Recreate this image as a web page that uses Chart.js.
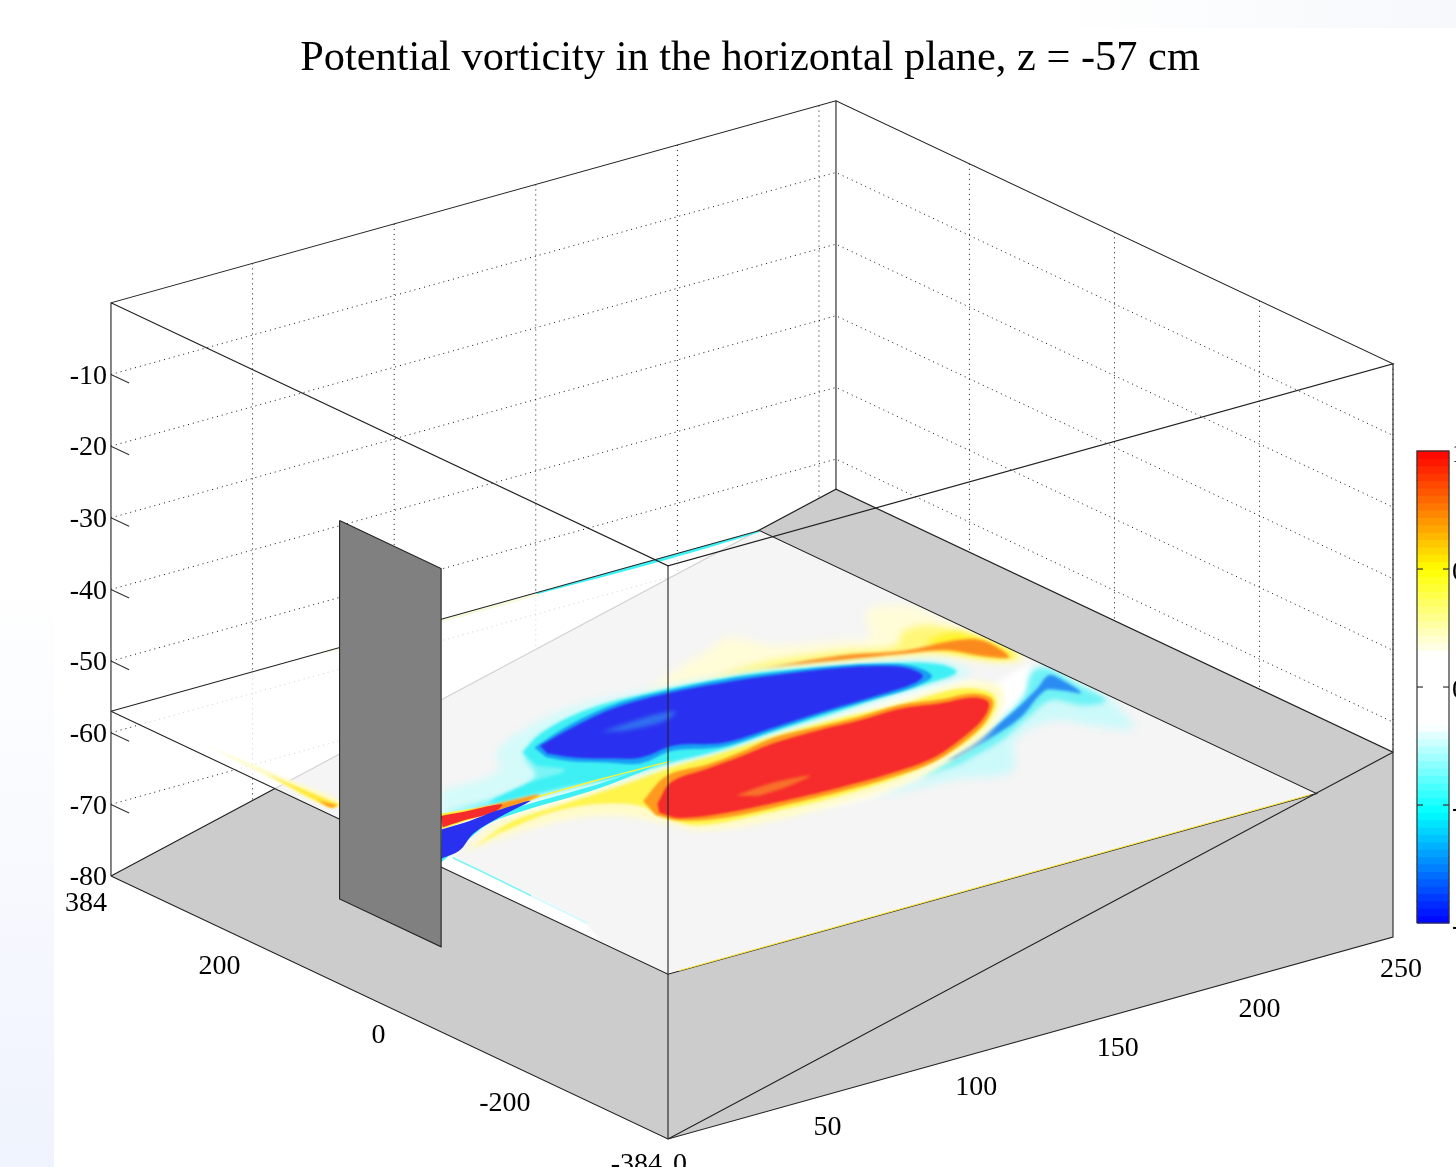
<!DOCTYPE html>
<html>
<head>
<meta charset="utf-8">
<title>Potential vorticity</title>
<script src="https://cdn.jsdelivr.net/npm/chart.js@4/dist/chart.umd.js"></script>
<style>
  html, body { margin: 0; padding: 0; background: #fff; width: 1456px; height: 1167px; overflow: hidden; }
  #strip { position: absolute; left: 0; top: 570px; width: 54px; height: 597px; background: linear-gradient(to bottom, #fff, #eff3fd); }
  #band { position: absolute; right: 0; top: 0; width: 420px; height: 28px; background: linear-gradient(to right, #fff, #f6f8fb); }
  canvas { position: absolute; left: 0; top: 0; }
</style>
</head>
<body>
<div id="strip"></div>
<div id="band"></div>
<canvas id="pv" width="1500" height="1167"></canvas>
<script>
// axes (cm)
const xMax = 256, yEdge = 384, zFloor = -80, planeZ = -57, planeXEnd = 229, shelfZ = -54.2;
const xTicks = [50, 100, 150, 200, 250];
const yTicks = [200, 0, -200];
const zTicks = [-10, -20, -30, -40, -50, -60, -70];
const zLabels = [-10, -20, -30, -40, -50, -60, -70, -80];
const yLabels = [384, 200, 0, -200, -384];
const xLabels = [0, 50, 100, 150, 200, 250];
const cbTicks = [1, 0.5, 0, -0.5, -1];
const cbLabels = ["1", "0.5", "0", "-0.5", "-1"];
const cbLevels = [
  -0.984, -0.953, -0.922, -0.891, -0.859, -0.828, -0.797, -0.766, -0.734, -0.703, -0.672, -0.641, -0.609, -0.578, -0.547, -0.516,
  -0.484, -0.453, -0.422, -0.391, -0.359, -0.328, -0.297, -0.266, -0.234, -0.203, -0.172, -0.141, -0.109, -0.078, -0.047, -0.016,
  0.016, 0.047, 0.078, 0.109, 0.141, 0.172, 0.203, 0.234, 0.266, 0.297, 0.328, 0.359, 0.391, 0.422, 0.453, 0.484,
  0.516, 0.547, 0.578, 0.609, 0.641, 0.672, 0.703, 0.734, 0.766, 0.797, 0.828, 0.859, 0.891, 0.922, 0.953, 0.984,
];

// the plate standing on the shelf: x, y range, z range
const plateX = 40, plateY = [85, 225], plateZ = [-80, -27.2];

// PV contours in the plane z = -57, as [x, y] in cm
const whiteBand = [[24,22],[94,23],[152,29],[203,6],[209,-38],[201,-59],[140,-19],[82,-23],[15,-11]];
const whiteArc = [[212,-15],[226,-2],[214,-48],[192,-100],[165,-141],[131,-164],[100,-150]];
const whiteEdge = [[0.5,-30],[6,-30],[6,-240],[0.5,-290]];
const nePale = [[122,133],[142,167],[161,190],[172,203],[178,166],[195,141],[203,131],[215,182],[227,169],[228,132],[229,91],[229,14],[222,15],[209,58],[185,100],[165,116],[145,130]];
const neYellow = [[144,133],[160,140],[171,138],[190,122],[205,103],[214,126],[223,120],[226,76],[228,19],[221,22],[211,66],[185,100],[166,118]];
const neCore = [[214,97],[226,94],[227,24],[220,37],[213,75]];
const neOrange = [[164,130],[188,113],[205,89],[221,82],[227,67],[225,24],[220,37],[214,69],[203,84],[186,104]];
const sePale = [[130,-157],[149,-153],[173,-121],[193,-88],[212,-52],[223,-12],[229,-11],[228,-52],[228,-97],[224,-138],[219,-171],[211,-143],[205,-115],[187,-132],[172,-187],[156,-173],[139,-169]];
const seCyan = [[148,-152],[171,-125],[192,-92],[210,-55],[223,-16],[228,-17],[227,-65],[226,-105],[219,-104],[214,-77],[202,-94],[184,-125],[164,-147]];
const seAzure = [[162,-133],[184,-104],[201,-77],[216,-49],[225,-30],[226,-42],[224,-79],[221,-65],[217,-56],[199,-93],[182,-116],[165,-135]];
const redPale = [[11,-55],[35,-16],[58,-10],[81,0],[100,5],[117,0],[136,4],[156,3],[180,0],[202,2],[209,-24],[202,-57],[183,-108],[163,-136],[140,-156],[118,-159],[96,-156],[75,-137],[70,-102],[62,-63],[48,-47],[27,-49]];
const redYellow = [[16,-53],[36,-25],[55,-19],[78,-13],[97,-6],[116,-4],[136,0],[155,-1],[178,-8],[199,-9],[204,-33],[199,-59],[184,-96],[164,-124],[144,-140],[122,-144],[100,-139],[77,-126],[73,-95],[73,-60],[65,-36],[50,-27],[29,-38]];
const redOrange = [[76,-53],[93,-19],[107,-19],[121,-13],[135,-3],[150,-6],[164,-9],[178,-8],[190,-19],[200,-25],[201,-47],[190,-81],[178,-104],[159,-130],[142,-137],[124,-137],[102,-132],[86,-125],[75,-108],[72,-86]];
const redCore = [[78,-65],[91,-33],[105,-27],[119,-21],[132,-14],[148,-13],[162,-16],[176,-15],[188,-26],[198,-32],[199,-49],[191,-74],[180,-95],[161,-122],[144,-129],[126,-129],[104,-124],[88,-117],[76,-103],[74,-83]];
const redPatch = [[99,-91],[112,-86],[125,-92],[116,-100],[104,-103]];
const bluePale = [[36,69],[58,76],[67,114],[88,145],[108,157],[131,148],[148,139],[167,124],[199,73],[209,50],[209,15],[199,9],[189,10],[158,5],[136,4],[117,-1],[99,0],[87,-5],[70,-3],[48,5],[22,14]];
const blueMid = [[26,27],[50,30],[64,49],[71,91],[84,120],[106,136],[130,136],[150,127],[165,116],[198,68],[206,45],[206,23],[195,18],[177,16],[157,11],[137,8],[118,2],[100,4],[82,4],[62,8],[42,12]];
const blueCyan = [[72,98],[87,126],[108,144],[132,141],[151,131],[166,118],[198,68],[206,45],[206,23],[195,18],[177,16],[157,11],[137,8],[118,2],[100,4],[82,4],[64,14],[41,22],[60,39],[73,43],[69,67]];
const blueAzure = [[77,101],[96,125],[115,139],[133,137],[151,129],[165,116],[183,95],[193,78],[199,59],[199,29],[190,18],[178,16],[158,15],[138,10],[119,6],[106,24],[93,17],[86,36],[79,55],[75,77]];
const blueCore = [[79,101],[95,118],[113,132],[132,132],[149,123],[164,111],[182,91],[192,74],[197,57],[197,34],[191,24],[180,21],[159,19],[139,15],[121,13],[109,33],[96,28],[88,43],[81,62],[77,83]];
const bluePatch = [[99,95],[108,98],[121,99],[125,93],[117,82],[105,85]];
const wedgeYellow = [[25,27],[52,11],[77,10],[101,7],[100,5],[76,7],[51,6],[32,2],[18,-2]];
const wedgeCyan = [[17,-4],[46,0],[75,1],[97,7],[73,-7],[44,-10],[31,-16],[17,-38],[2,-63]];
const wedgeTip = [[33,18],[56,12],[42,1],[29,3]];
const wedgeRed = [[24,23],[33,18],[43,13],[38,3],[29,3],[19,1]];
const wedgeBlue = [[18,-2],[28,-1],[39,4],[51,5],[37,-9],[23,-26],[12,-50],[4,-56]];
const farStreak = [[7,-60],[7,-100],[6.5,-170]];
const farStreakPale = [[6.5,-170],[6,-250]];
const westPale = [[5,270],[4,180],[3,95],[9,95],[7,180]];
const westYellow = [[5,190],[3.5,95],[7,95]];
const westOrange = [[4,115],[3.5,95],[6,95]];
const backPale = [[75,384],[75,381],[150,378],[150,384]];
const backCyan = [[150,381],[195,378],[228,381],[229,384],[150,384]];

// contour, fill colour, edge softness in px, back to front
const contourLayers = [
  [whiteBand, "#ffffff", 2], [whiteArc, "#ffffff", 3], [whiteEdge, "#ffffff", 1],
  [backPale, "#f4fbe0", 0.6], [backCyan, "#3ef2f5", 0.6],
  [westPale, "#fffbc8", 0.8], [westYellow, "#ffe93a", 0.8], [westOrange, "#ff9a1e", 0.8],
  [nePale, "#fffcd8", 5], [neYellow, "#fff77a", 3.5], [neCore, "#fff22a", 3], [neOrange, "#fb8a1e", 1.5],
  [sePale, "#ccf9fa", 4], [seCyan, "#6ff2f5", 2.5], [seAzure, "#2a8cf2", 1.6],
  [redPale, "#fffbc8", 3], [redYellow, "#fff44a", 1.5], [redOrange, "#ff9a1e", 1], [redCore, "#f62b2b", 0.8], [redPatch, "#f8702a", 1.6],
  [bluePale, "#d5fafa", 3.5], [blueMid, "#7af4f6", 2.5], [blueCyan, "#3ef0f4", 1.6], [blueAzure, "#189ff5", 1], [blueCore, "#2a30f0", 0.8], [bluePatch, "#3070f0", 2],
  [wedgeCyan, "#3ef0f4", 0.6], [wedgeYellow, "#fff03a", 0.6], [wedgeTip, "#ff9a1e", 0.8], [wedgeRed, "#f62b2b", 0.6], [wedgeBlue, "#2a30f0", 0.6],
];

// fixed view of the box
function view(x, y, z) {
  return {
    x: 668 + x * 725 / xMax - (y + yEdge) * 0.7253,
    y: 1139 - x * 202 / xMax - (y + yEdge) * 0.3424 - (z - zFloor) * 7.165,
  };
}

const BLACK = "#222";
function line(points, color, width, dash) {
  return { type: "scatter", showLine: true, data: points.map(p => view(p[0], p[1], p[2])), borderColor: color || BLACK, borderWidth: width || 1.1, borderDash: dash || [], pointRadius: 0, tension: 0, fill: false };
}
function shape(points, color, border) {
  return { type: "scatter", showLine: true, data: points.map(p => view(p[0], p[1], p[2])), backgroundColor: color, borderColor: border || "transparent", borderWidth: border ? 1.1 : 0, pointRadius: 0, tension: 0, fill: "shape" };
}
function contour(points, color, soft) {
  const d = shape(points.map(p => [p[0], p[1], planeZ]), color);
  d.tension = 0.35;
  d.soft = soft;
  return d;
}
function cbColor(v) {
  const stops = [[-1, 0, 0, 255], [-0.53, 0, 255, 255], [-0.16, 255, 255, 255], [0.135, 255, 255, 255], [0.5, 255, 255, 0], [1, 255, 0, 0]];
  for (let i = 1; i < stops.length; i++) {
    if (v <= stops[i][0]) {
      const a = stops[i - 1], b = stops[i], t = (v - a[0]) / (b[0] - a[0]);
      return "rgb(" + [1, 2, 3].map(k => Math.round(a[k] + (b[k] - a[k]) * t)).join(",") + ")";
    }
  }
  return "#f00";
}

const datasets = [];
const DOT = [1, 4];

// dotted walls
zTicks.forEach(z => {
  datasets.push(line([[0, yEdge, z], [xMax, yEdge, z], [xMax, -yEdge, z]], "#111", 1, DOT));
});
xTicks.forEach(x => datasets.push(line([[x, yEdge, 0], [x, yEdge, zFloor]], "#111", 1, DOT)));
yTicks.forEach(y => datasets.push(line([[xMax, y, 0], [xMax, y, zFloor]], "#111", 1, DOT)));
datasets.push(line([[xMax, -yEdge, 0], [xMax, -yEdge, shelfZ]], "#111", 1, DOT));

// box behind
datasets.push(line([[xMax, yEdge, 0], [xMax, yEdge, shelfZ]]));
zLabels.slice(0, -1).forEach(z => datasets.push(line([[0, yEdge, z], [0, yEdge - 25, z]], "#333")));

// bottom and slope
datasets.push(shape([[0, yEdge, zFloor], [0, -yEdge, zFloor], [xMax, -yEdge, shelfZ], [xMax, yEdge, shelfZ]], "#cccccc"));
datasets.push(shape([[0, -yEdge, zFloor], [xMax, -yEdge, zFloor], [xMax, -yEdge, shelfZ]], "#cccccc"));
datasets.push(line([[0, yEdge, zFloor], [xMax, yEdge, shelfZ], [xMax, -yEdge, shelfZ], [xMax, -yEdge, zFloor], [0, -yEdge, zFloor], [0, yEdge, zFloor]]));
datasets.push(line([[0, -yEdge, zFloor], [xMax, -yEdge, shelfZ]]));

// horizontal plane and its field
const planeCorners = [[0, yEdge, planeZ], [0, -yEdge, planeZ], [planeXEnd, -yEdge, planeZ], [planeXEnd, yEdge, planeZ]];
datasets.push(shape(planeCorners, "rgba(255,255,255,0.8)"));
contourLayers.forEach(l => datasets.push(contour(l[0], l[1], l[2])));
datasets.push(line(farStreak.map(p => [p[0], p[1], planeZ]), "#7df3f6", 1.6));
datasets.push(line(farStreakPale.map(p => [p[0], p[1], planeZ]), "#d0fbfb", 1.6));
datasets.push(line([[0, yEdge, planeZ], [0, -yEdge, planeZ], [planeXEnd, -yEdge, planeZ], [planeXEnd, yEdge, planeZ], [0, yEdge, planeZ]]));
datasets.push(line([[4, -yEdge + 1, planeZ], [planeXEnd - 2, -yEdge + 1, planeZ]], "#ffe93a", 1.2));

// box edges in front
datasets.push(line([[0, yEdge, zFloor], [0, yEdge, 0], [xMax, yEdge, 0], [xMax, -yEdge, 0], [0, -yEdge, 0], [0, yEdge, 0]]));
datasets.push(line([[xMax, -yEdge, 0], [xMax, -yEdge, shelfZ]]));
datasets.push(line([[0, -yEdge, 0], [0, -yEdge, zFloor]]));

// plate
datasets.push(shape([[plateX, plateY[1], plateZ[1]], [plateX, plateY[0], plateZ[1]], [plateX, plateY[0], plateZ[0]], [plateX, plateY[1], plateZ[0]], [plateX, plateY[1], plateZ[1]]], "#808080", BLACK));

// colorbar
datasets.push({
  type: "bar",
  xAxisID: "x",
  yAxisID: "yCb",
  data: cbLevels.map(v => ({ x: 1433, y: [v - 0.0165, v + 0.0165] })),
  backgroundColor: cbLevels.map(cbColor),
  barThickness: 32,
  borderWidth: 0,
  grouped: false,
});
function cbLine(points, color) {
  return { type: "scatter", yAxisID: "yCb", showLine: true, data: points, borderColor: color, borderWidth: 1.2, pointRadius: 0, fill: false, spanGaps: false };
}
datasets.push(cbLine([{ x: 1417, y: -1 }, { x: 1449, y: -1 }, { x: 1449, y: 1 }, { x: 1417, y: 1 }, { x: 1417, y: -1 }], "#333"));
cbTicks.slice(1, -1).forEach(v => {
  datasets.push(cbLine([{ x: 1417, y: v }, { x: 1423, y: v }], "#333"));
  datasets.push(cbLine([{ x: 1443, y: v }, { x: 1449, y: v }], "#333"));
});

// Chart.js paints the first dataset last, the list above is back to front
datasets.reverse();

// the filler has to run after softEdge so that the blur applies to the fills
const softEdge = {
  id: "softEdge",
  beforeDatasetDraw(chart, args) {
    const d = chart.data.datasets[args.index];
    if (!d.soft) return;
    const ctx = chart.ctx, sx = chart.scales.x, sy = chart.scales.y;
    ctx.save();
    ctx.beginPath();
    planeCorners.forEach(c => {
      const p = view(c[0], c[1], c[2]);
      ctx.lineTo(sx.getPixelForValue(p.x), sy.getPixelForValue(p.y));
    });
    ctx.closePath();
    ctx.clip();
    ctx.filter = "blur(" + d.soft + "px)";
  },
  afterDatasetDraw(chart, args) {
    if (chart.data.datasets[args.index].soft) chart.ctx.restore();
  },
};
Chart.unregister(Chart.Filler);
Chart.register(softEdge);
Chart.register(Chart.Filler);

const tickText = {
  id: "tickText",
  afterDatasetsDraw(chart) {
    const ctx = chart.ctx, sx = chart.scales.x, sy = chart.scales.y, sc = chart.scales.yCb;
    const put = (s, p, dx, dy, align) => {
      ctx.textAlign = align;
      ctx.fillText(s, sx.getPixelForValue(p.x) + dx, sy.getPixelForValue(p.y) + dy);
    };
    ctx.save();
    ctx.fillStyle = "#000";
    ctx.font = "28px 'Liberation Serif'";
    ctx.textBaseline = "middle";
    zLabels.forEach(z => put(String(z), view(0, yEdge, z), -4, 2, "right"));
    yLabels.forEach(y => put(String(y), view(0, y, zFloor), y === -384 ? -6 : -4, y === -384 ? 26 : 28, "right"));
    xLabels.forEach(x => put(String(x), view(x, -yEdge, zFloor), x === 0 ? 5 : 4, x === 0 ? 26 : 28, "left"));
    ctx.textAlign = "left";
    cbTicks.forEach((v, i) => ctx.fillText(cbLabels[i], 1452, sc.getPixelForValue(v) + 4));
    ctx.restore();
  },
};

new Chart(document.getElementById("pv"), {
  type: "scatter",
  data: { datasets: datasets },
  plugins: [tickText],
  options: {
    responsive: false,
    animation: false,
    devicePixelRatio: 1,
    events: [],
    layout: { padding: 0 },
    plugins: {
      legend: { display: false },
      tooltip: { enabled: false },
      title: {
        display: true,
        text: "Potential vorticity in the horizontal plane, z = -57 cm",
        color: "#000",
        font: { family: "'Liberation Serif'", size: 42.4, weight: "normal" },
        padding: { top: 33, bottom: 6.12 },
      },
    },
    scales: {
      x: { type: "linear", display: false, offset: false, min: 0, max: 1500 },
      y: { type: "linear", display: false, reverse: true, min: 90, max: 1167 },
      yCb: { type: "linear", display: false, min: -2.034, max: 2.53 },
    },
  },
});
</script>
</body>
</html>
